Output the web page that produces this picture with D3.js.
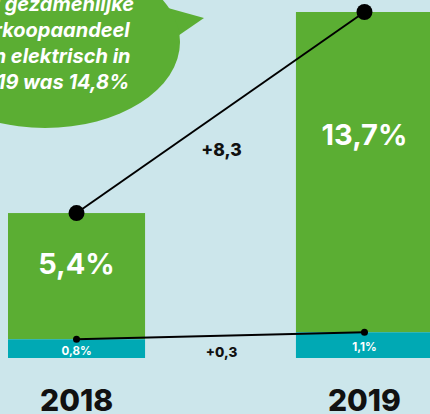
<!DOCTYPE html>
<html>
<head>
<meta charset="utf-8">
<script src="https://cdn.jsdelivr.net/npm/d3@7"></script>
<style>
  html, body { margin: 0; padding: 0; background: #cce6eb; }
  svg { display: block; font-family: Inter, "Open Sans", sans-serif; }
</style>
</head>
<body>
<script>
const years = ["2018", "2019"]
const phev = [0.8, 1.1]      // teal segment
const bev = [5.4, 13.7]      // green segment
const phevLabels = ["0,8%", "1,1%"]
const bevLabels = ["5,4%", "13,7%"]
const deltaLabels = ["+8,3", "+0,3"]
const bubbleLines = ["Het gezamenlijke", "verkoopaandeel", "van elektrisch in", "2019 was 14,8%"]

const w = 430
const h = 414

const green = '#5bae33'
const teal = '#00a9b4'

const svg = d3.select('body')
    .append('svg')
    .attr('width', w)
    .attr('height', h)

svg.append('rect')
    .attr('width', w)
    .attr('height', h)
    .attr('fill', '#cce6eb')

const x = d3.scaleBand()
    .domain(years)
    .range([8, 433])
    .paddingInner(0.524)
    .paddingOuter(0)

const y = d3.scaleLinear()
    .domain([0, 14.8])
    .range([358, 12])

const rows = years.map((yr, i) => ({
    year: yr,
    phev: phev[i],
    bev: bev[i],
    total: phev[i] + bev[i],
    cx: x(yr) + x.bandwidth() / 2
}))

// speech bubble
const bubble = svg.append('g')
bubble.append('path')
    .attr('d', 'M168,8 L204,18 L172,40 Z')
    .attr('fill', green)
bubble.append('ellipse')
    .attr('cx', 45)
    .attr('cy', 42)
    .attr('rx', 135)
    .attr('ry', 86)
    .attr('fill', green)
bubble.selectAll('text')
    .data(bubbleLines)
    .enter()
    .append('text')
    .attr('x', 50)
    .attr('y', (d, i) => 11 + i * 26)
    .attr('text-anchor', 'middle')
    .attr('fill', '#fff')
    .attr('font-size', 20)
    .attr('font-weight', 700)
    .attr('font-style', 'italic')
    .text(d => d)

// green segments
svg.selectAll('.bev')
    .data(rows)
    .enter()
    .append('rect')
    .attr('class', 'bev')
    .attr('x', d => x(d.year))
    .attr('width', x.bandwidth())
    .attr('y', d => y(d.total))
    .attr('height', d => y(d.phev) - y(d.total))
    .attr('fill', green)

// teal segments
svg.selectAll('.phev')
    .data(rows)
    .enter()
    .append('rect')
    .attr('class', 'phev')
    .attr('x', d => x(d.year))
    .attr('width', x.bandwidth())
    .attr('y', d => y(d.phev))
    .attr('height', d => y(0) - y(d.phev))
    .attr('fill', teal)

// connecting lines
const topLine = d3.line().x(d => d.cx).y(d => y(d.total))
const lowLine = d3.line().x(d => d.cx).y(d => y(d.phev))

svg.append('path')
    .attr('d', topLine(rows))
    .attr('stroke', '#000')
    .attr('stroke-width', 2)
    .attr('fill', 'none')
svg.append('path')
    .attr('d', lowLine(rows))
    .attr('stroke', '#000')
    .attr('stroke-width', 2)
    .attr('fill', 'none')

svg.selectAll('.dotTop')
    .data(rows)
    .enter()
    .append('circle')
    .attr('cx', d => d.cx)
    .attr('cy', d => y(d.total))
    .attr('r', 8)
    .attr('fill', '#000')
svg.selectAll('.dotLow')
    .data(rows)
    .enter()
    .append('circle')
    .attr('cx', d => d.cx)
    .attr('cy', d => y(d.phev))
    .attr('r', 3.5)
    .attr('fill', '#000')

// value labels
svg.selectAll('.bevLabel')
    .data(rows)
    .enter()
    .append('text')
    .attr('x', d => d.cx)
    .attr('y', (d, i) => i === 0 ? 274 : 145)
    .attr('text-anchor', 'middle')
    .attr('fill', '#fff')
    .attr('font-size', 29)
    .attr('font-weight', 700)
    .text((d, i) => bevLabels[i])

svg.selectAll('.phevLabel')
    .data(rows)
    .enter()
    .append('text')
    .attr('x', d => d.cx)
    .attr('y', d => (y(d.phev) + y(0)) / 2 + 6)
    .attr('text-anchor', 'middle')
    .attr('fill', '#fff')
    .attr('font-size', 11.5)
    .attr('font-weight', 700)
    .text((d, i) => phevLabels[i])

// delta labels
const midX = (rows[0].cx + rows[1].cx) / 2
svg.append('text')
    .attr('x', midX + 1)
    .attr('y', 156)
    .attr('text-anchor', 'middle')
    .attr('fill', '#111')
    .attr('font-size', 17.5)
    .attr('font-weight', 800)
    .text(deltaLabels[0])
svg.append('text')
    .attr('x', midX + 1)
    .attr('y', 357)
    .attr('text-anchor', 'middle')
    .attr('fill', '#111')
    .attr('font-size', 13.5)
    .attr('font-weight', 800)
    .text(deltaLabels[1])

// year axis
const xAxis = d3.axisBottom(x).tickSize(0).tickPadding(0)
const axisG = svg.append('g')
    .attr('transform', 'translate(0, 388)')
    .call(xAxis)
axisG.select('.domain').remove()
axisG.selectAll('text')
    .attr('dy', '0.77em')
    .attr('fill', '#111')
    .attr('font-size', 30)
    .attr('font-weight', 800)
    .attr('font-family', 'Inter, sans-serif')
</script>
</body>
</html>
